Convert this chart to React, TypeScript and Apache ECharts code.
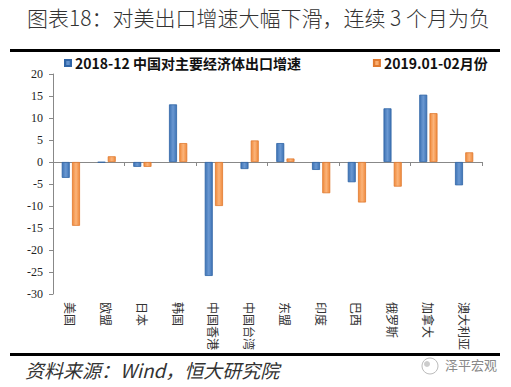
import React, { useEffect, useRef } from "react";
import * as echarts from "echarts";

const categories = ["美国", "欧盟", "日本", "韩国", "中国香港", "中国台湾", "东盟", "印度", "巴西", "俄罗斯", "加拿大", "澳大利亚"];
const seriesNames = ["2018-12 中国对主要经济体出口增速", "2019.01-02月份"];
const dec2018 = [-3.6, -0.1, -1.1, 13.1, -25.9, -1.6, 4.3, -1.8, -4.6, 12.2, 15.3, -5.3];
const janFeb2019 = [-14.5, 1.3, -1.1, 4.3, -10.0, 4.9, 0.8, -7.1, -9.2, -5.6, 11.1, 2.2];
const yTicks = { min: -30, max: 20, interval: 5 };
const title = "图表18：对美出口增速大幅下滑，连续 3 个月为负";
const source = "资料来源：Wind，恒大研究院";
const watermark = "泽平宏观";

const SERIF = "'Liberation Serif', 'Noto Sans CJK SC', serif";
const CJK = "'Noto Sans CJK SC', 'Liberation Serif', sans-serif";

export default function App() {
  const ref = useRef<HTMLDivElement>(null);
  useEffect(() => {
    if (!ref.current) return;
    const chart = echarts.init(ref.current, null, { renderer: "svg" });
    const blue = new echarts.graphic.LinearGradient(0, 0, 1, 0, [
      { offset: 0, color: "#3f74b5" },
      { offset: 0.5, color: "#6a98d2" },
      { offset: 1, color: "#3f74b5" },
    ]);
    const orange = new echarts.graphic.LinearGradient(0, 0, 1, 0, [
      { offset: 0, color: "#f08a3c" },
      { offset: 0.5, color: "#fbb47a" },
      { offset: 1, color: "#f08a3c" },
    ]);
    chart.setOption({
      animation: false,
      backgroundColor: "#fff",
      graphic: [
        {
          type: "text",
          left: 27,
          top: 6,
          style: { text: title, font: `300 21px ${CJK}`, fill: "#333" },
        },
        { type: "rect", shape: { x: 10, y: 49, width: 490, height: 3 }, style: { fill: "#000" } },
        { type: "rect", shape: { x: 10, y: 353, width: 490, height: 3 }, style: { fill: "#000" } },
        {
          type: "text",
          left: 25,
          top: 360,
          style: { text: source, font: `italic 19px ${CJK}`, fill: "#333" },
        },
        { type: "circle", shape: { cx: 430, cy: 366, r: 8 }, style: { fill: "none", stroke: "#bbb", lineWidth: 1 } },
        { type: "circle", shape: { cx: 427, cy: 364, r: 3 }, style: { fill: "#ccc" } },
        {
          type: "text",
          left: 445,
          top: 358,
          style: { text: watermark, font: `13px ${CJK}`, fill: "#888" },
        },
      ],
      legend: {
        top: 51,
        left: 59,
        itemWidth: 6,
        itemHeight: 6,
        itemGap: 72,
        icon: "rect",
        textStyle: { fontFamily: CJK, fontWeight: "bold", fontSize: 14, color: "#111", padding: [0, 0, 0, -1] },
        data: seriesNames,
      },
      grid: { left: 53, right: 29, top: 74, bottom: 93, containLabel: false },
      xAxis: [
        {
          type: "category",
          data: categories,
          axisLine: { onZero: true, lineStyle: { color: "#888", width: 1 } },
          axisTick: { show: true, length: 4, lineStyle: { color: "#888" } },
          axisLabel: { show: false },
        },
        {
          type: "category",
          data: categories,
          position: "bottom",
          axisLine: { show: false, onZero: false },
          axisTick: { show: false },
          axisLabel: {
            show: true,
            rotate: -90,
            interval: 0,
            fontSize: 12,
            fontFamily: CJK,
            color: "#333",
            margin: 8,
          },
        },
      ],
      yAxis: {
        type: "value",
        min: yTicks.min,
        max: yTicks.max,
        interval: yTicks.interval,
        axisLine: { show: true, lineStyle: { color: "#888" } },
        axisTick: { show: true, length: 4, lineStyle: { color: "#888" } },
        splitLine: { show: false },
        axisLabel: { fontFamily: SERIF, fontSize: 12, color: "#222", margin: 10 },
      },
      series: [
        {
          name: seriesNames[0],
          type: "bar",
          xAxisIndex: 0,
          data: dec2018,
          barWidth: 8,
          barGap: "28%",
          itemStyle: { color: blue, borderColor: "#2f64a6", borderWidth: 0.8 },
        },
        {
          name: seriesNames[1],
          type: "bar",
          xAxisIndex: 0,
          data: janFeb2019,
          barWidth: 8,
          itemStyle: { color: orange, borderColor: "#e07a30", borderWidth: 0.8 },
        },
      ],
    });
    return () => chart.dispose();
  }, []);
  return <div ref={ref} style={{ width: 511, height: 387, position: "absolute", left: 0, top: 0 }} />;
}
